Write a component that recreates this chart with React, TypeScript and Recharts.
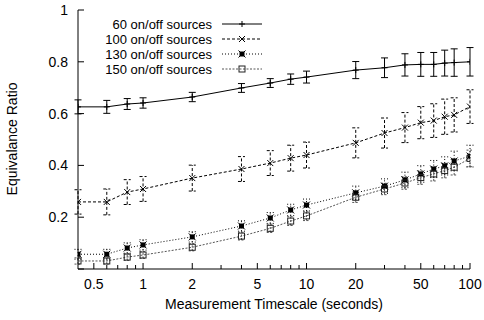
import { ComposedChart, Line, XAxis, YAxis, ErrorBar, Legend } from "recharts";

const XS = [0.4, 0.6, 0.8, 1, 2, 4, 6, 8, 10, 20, 30, 40, 50, 60, 70, 80, 100];
const S60 = [0.626, 0.626, 0.637, 0.641, 0.664, 0.699, 0.718, 0.733, 0.741, 0.768, 0.777, 0.788, 0.79, 0.79, 0.795, 0.797, 0.8];
const E60 = [0.027, 0.025, 0.021, 0.02, 0.018, 0.017, 0.017, 0.02, 0.023, 0.033, 0.038, 0.043, 0.046, 0.046, 0.05, 0.053, 0.055];
const S100 = [0.259, 0.259, 0.297, 0.309, 0.351, 0.386, 0.409, 0.428, 0.44, 0.487, 0.525, 0.546, 0.565, 0.573, 0.588, 0.595, 0.627];
const E100 = [0.047, 0.05, 0.048, 0.048, 0.05, 0.048, 0.048, 0.05, 0.05, 0.058, 0.058, 0.058, 0.062, 0.065, 0.068, 0.066, 0.065];
const S130 = [0.057, 0.057, 0.081, 0.093, 0.124, 0.166, 0.197, 0.228, 0.247, 0.294, 0.32, 0.344, 0.367, 0.386, 0.398, 0.417, 0.436];
const E130 = [0.019, 0.019, 0.02, 0.02, 0.02, 0.02, 0.021, 0.022, 0.023, 0.026, 0.028, 0.03, 0.032, 0.033, 0.035, 0.038, 0.042];
const S150 = [0.031, 0.031, 0.046, 0.054, 0.084, 0.127, 0.157, 0.185, 0.205, 0.277, 0.309, 0.332, 0.353, 0.367, 0.38, 0.393, 0.427];
const E150 = [0.012, 0.012, 0.013, 0.013, 0.014, 0.015, 0.016, 0.017, 0.018, 0.02, 0.022, 0.024, 0.026, 0.027, 0.028, 0.03, 0.032];

const X_TICKS = [0.5, 0.6, 0.7, 0.8, 0.9, 1, 2, 3, 4, 5, 6, 7, 8, 9, 10, 20, 30, 40, 50, 60, 70, 80, 90, 100];
const X_LABELS = [0.5, 1, 2, 5, 10, 20, 50, 100];
const Y_TICKS = [0, 0.2, 0.4, 0.6, 0.8, 1];
const SERIES_NAMES = ["60 on/off sources", "100 on/off sources", "130 on/off sources", "150 on/off sources"];

const rows = XS.map((x, i) => ({
  x,
  s60: S60[i], e60: E60[i],
  s100: S100[i], e100: E100[i],
  s130: S130[i], e130: E130[i],
  s150: S150[i], e150: E150[i],
}));

const FONT = "'Liberation Sans', Arial, sans-serif";
const GREY = "#555";

const marker = (kind: number, cx: number, cy: number, key?: any) => {
  if (cx == null || cy == null) return <g key={key} />;
  if (kind === 0)
    return <path key={key} d={`M${cx - 3},${cy}h6M${cx},${cy - 3}v6`} stroke="#000" />;
  if (kind === 1)
    return <path key={key} d={`M${cx - 3},${cy - 3}l6,6M${cx + 3},${cy - 3}l-6,6`} stroke="#000" />;
  if (kind === 2)
    return (
      <g key={key}>
        <rect x={cx - 2.5} y={cy - 2.5} width={5} height={5} fill="#000" />
        <path d={`M${cx - 3.5},${cy - 3.5}l7,7M${cx + 3.5},${cy - 3.5}l-7,7`} stroke="#000" />
      </g>
    );
  return <rect key={key} x={cx - 3} y={cy - 3} width={6} height={6} fill="none" stroke="#222" />;
};

const BottomTick = (p: any) => {
  const v = p.payload.value;
  const major = X_LABELS.includes(v);
  return (
    <g>
      <line x1={p.x} x2={p.x} y1={p.y} y2={p.y - (major ? 6 : 4)} stroke="#000" />
      {major && (
        <text x={p.x} y={p.y + 20} textAnchor="middle" fontSize={14} fontFamily={FONT} fill="#000">
          {v}
        </text>
      )}
    </g>
  );
};

const TopTick = (p: any) => {
  const major = X_LABELS.includes(p.payload.value);
  return <line x1={p.x} x2={p.x} y1={p.y} y2={p.y + (major ? 6 : 4)} stroke="#000" />;
};

const LeftTick = (p: any) => {
  const v = p.payload.value;
  return (
    <g>
      <line x1={p.x} x2={p.x + 6} y1={p.y} y2={p.y} stroke="#000" />
      {v !== 0 && (
        <text x={p.x - 10} y={p.y + 5} textAnchor="end" fontSize={14} fontFamily={FONT} fill="#000">
          {v}
        </text>
      )}
    </g>
  );
};

const RightTick = (p: any) => <line x1={p.x} x2={p.x - 6} y1={p.y} y2={p.y} stroke="#000" />;

const STYLES = [
  { stroke: "#000", dash: undefined },
  { stroke: "#000", dash: "3 2" },
  { stroke: "#000", dash: "1 2" },
  { stroke: GREY, dash: "2 1.5" },
];

const LegendBox = () => (
  <svg width={200} height={64}>
    {SERIES_NAMES.map((name, i) => {
      const y = 9 + i * 15;
      return (
        <g key={name}>
          <text x={128} y={y + 4.5} textAnchor="end" fontSize={13} fontFamily={FONT} fill="#000">
            {name}
          </text>
          <line x1={138} x2={178} y1={y} y2={y} stroke={STYLES[i].stroke} strokeDasharray={STYLES[i].dash} />
          {marker(i, 158, y)}
        </g>
      );
    })}
  </svg>
);

const YLabel = () => (
  <text
    transform="translate(17,139) rotate(-90)"
    textAnchor="middle"
    fontSize={14}
    fontFamily={FONT}
    fill="#000"
  >
    Equivalance Ratio
  </text>
);

const keys = ["s60", "s100", "s130", "s150"];
const errs = ["e60", "e100", "e130", "e150"];

export default function App() {
  return (
    <div style={{ position: "absolute", left: 0, top: 0, width: 484, height: 320, background: "#fff" }}>
      <ComposedChart width={484} height={320} data={rows} margin={{ top: 10, right: 14, bottom: 0, left: 0 }}>
        <XAxis
          dataKey="x"
          type="number"
          scale="log"
          domain={[0.4, 100]}
          allowDataOverflow
          ticks={X_TICKS}
          interval={0}
          height={51}
          tickSize={0}
          tickMargin={0}
          tickLine={false}
          axisLine={{ stroke: "#000" }}
          tick={BottomTick}
          label={{
            value: "Measurement Timescale (seconds)",
            position: "insideBottom",
            offset: 11,
            fontSize: 14,
            fontFamily: FONT,
            fill: "#000",
          }}
        />
        <XAxis
          xAxisId="top"
          dataKey="x"
          orientation="top"
          type="number"
          scale="log"
          domain={[0.4, 100]}
          allowDataOverflow
          ticks={X_TICKS}
          interval={0}
          height={0}
          tickSize={0}
          tickMargin={0}
          tickLine={false}
          axisLine={{ stroke: "#000" }}
          tick={TopTick}
        />
        <YAxis
          type="number"
          domain={[0, 1]}
          ticks={Y_TICKS}
          interval={0}
          width={78}
          tickSize={0}
          tickMargin={0}
          tickLine={false}
          axisLine={{ stroke: "#000" }}
          tick={LeftTick}
          label={YLabel}
        />
        <YAxis
          yAxisId="r"
          orientation="right"
          type="number"
          domain={[0, 1]}
          ticks={Y_TICKS}
          interval={0}
          width={0}
          tickSize={0}
          tickMargin={0}
          tickLine={false}
          axisLine={{ stroke: "#000" }}
          tick={RightTick}
        />
        <Legend
          layout="vertical"
          align="center"
          verticalAlign="middle"
          content={LegendBox}
          wrapperStyle={{ position: "absolute", left: 84, top: 15, width: 200 }}
        />
        {keys.map((k, i) => (
          <Line
            key={k}
            dataKey={k}
            name={SERIES_NAMES[i]}
            type="linear"
            stroke={STYLES[i].stroke}
            strokeWidth={1}
            strokeDasharray={STYLES[i].dash}
            dot={(p: any) => marker(i, p.cx, p.cy, `${k}-${p.index}`)}
            activeDot={false}
            isAnimationActive={false}
          >
            <ErrorBar
              dataKey={errs[i]}
              direction="y"
              width={3.5}
              stroke={STYLES[i].stroke}
              strokeWidth={1}
              strokeDasharray={STYLES[i].dash}
              isAnimationActive={false}
            />
          </Line>
        ))}
      </ComposedChart>
    </div>
  );
}
